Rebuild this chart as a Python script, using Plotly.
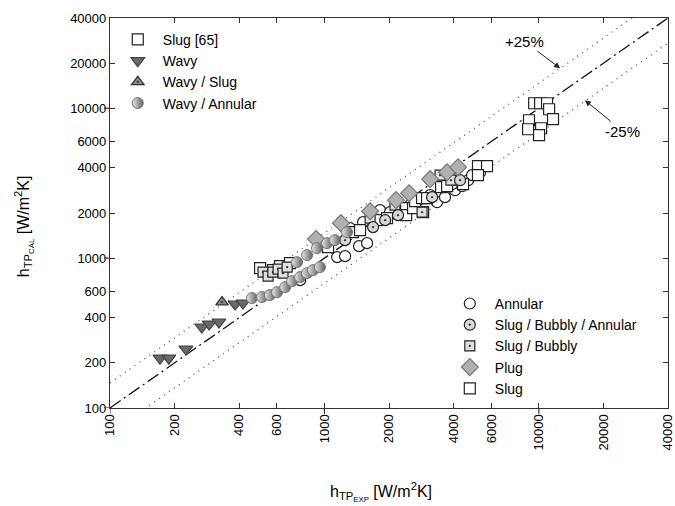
import plotly.graph_objects as go

# ---- data ----
slug65_x = [9506, 10133, 10918, 11163, 8995, 11640, 8907, 10240, 10020]
slug65_y = [10800, 10800, 10800, 9850, 8318, 8450, 7244, 7356, 6607]

wavy_x = [171, 188, 226, 268, 290, 322, 383, 417]
wavy_y = [215, 215, 247, 347, 363, 374, 494, 501]

wavyslug_x = [333]
wavyslug_y = [509]

wavyann_x = [459, 512, 557, 601, 656, 707, 770, 830, 885, 953, 745, 830, 923, 1028, 1120, 1274]
wavyann_y = [541, 550, 567, 593, 641, 703, 747, 794, 832, 871, 940, 1047, 1166, 1259, 1318, 1490]

annular_x = [770, 1146, 1248, 1450, 1580, 1316, 1514, 1817, 2023, 2253, 2508, 2735, 3350, 3648,
             4065, 4385, 4680, 4880, 5320, 3935, 3110]
annular_y = [713, 1016, 1031, 1202, 1259, 1585, 1738, 2089, 2027, 2188, 2256, 2436, 2362, 2552,
             2840, 3020, 3311, 3577, 3744, 3113, 2630]

sba_x = [1248, 1686, 1919, 2203, 3177, 4290]
sba_y = [1318, 1610, 1792, 1935, 2552, 3311]

sb_x = [517, 546, 575, 608, 641, 670, 2853, 3462, 3890, 2133, 1633]
sb_y = [807, 759, 807, 845, 794, 871, 2027, 3577, 3311, 2256, 1848]

plug_x = [914, 1194, 1633, 2158, 2481, 3110, 3733, 4200]
plug_y = [1339, 1711, 2056, 2436, 2712, 3364, 3744, 4043]

slug_x = [501, 575, 621, 691, 1040, 1358, 1466, 1758, 1958, 2404, 2404, 2590, 2648, 2853, 3010,
          2886, 3500, 3733, 4018, 4430, 5200, 5730, 5200]
slug_y = [858, 832, 885, 926, 1184, 1490, 1538, 1792, 1848, 2154, 1935, 2154, 2399, 2512, 2512,
          2027, 2975, 3020, 3364, 3113, 4106, 4106, 3577]

line_x = [100, 40000]
upper_factor = 1.47
lower_factor = 0.68

tick_vals = [100, 200, 400, 600, 1000, 2000, 4000, 6000, 10000, 20000, 40000]
tick_text = [str(v) for v in tick_vals]
decades = [100, 1000, 10000]

FONT = "Arial, Liberation Sans, sans-serif"
DARK = "#333333"

fig = go.Figure()

# reference lines
fig.add_trace(go.Scatter(x=line_x, y=[v * upper_factor for v in line_x], mode="lines",
                         line=dict(color="#555555", width=1.3, dash="1px,5px"),
                         showlegend=False, hoverinfo="skip"))
fig.add_trace(go.Scatter(x=line_x, y=[v * lower_factor for v in line_x], mode="lines",
                         line=dict(color="#555555", width=1.3, dash="1px,5px"),
                         showlegend=False, hoverinfo="skip"))
fig.add_trace(go.Scatter(x=line_x, y=line_x, mode="lines",
                         line=dict(color="#111111", width=1.3, dash="13px,4px,2px,4px"),
                         showlegend=False, hoverinfo="skip"))

def mk(symbol, size, fill, line="#222222", lw=1.2, **kw):
    d = dict(symbol=symbol, size=size, color=fill, line=dict(color=line, width=lw))
    d.update(kw)
    return d

# lower-right legend series
fig.add_trace(go.Scatter(x=annular_x, y=annular_y, mode="markers", name="Annular",
                         marker=mk("circle", 11, "white"), legend="legend2"))
fig.add_trace(go.Scatter(x=slug_x, y=slug_y, mode="markers", name="Slug",
                         marker=mk("square", 11, "white"), legend="legend2"))
fig.add_trace(go.Scatter(x=sb_x, y=sb_y, mode="markers", name="Slug / Bubbly",
                         marker=mk("square-dot", 10, "#e0e0e0"), legend="legend2"))
fig.add_trace(go.Scatter(x=sba_x, y=sba_y, mode="markers", name="Slug / Bubbly / Annular",
                         marker=mk("circle-dot", 11, "#d8d8d8"), legend="legend2"))
fig.add_trace(go.Scatter(x=plug_x, y=plug_y, mode="markers", name="Plug",
                         marker=mk("diamond", 13, "#b0b0b0", line="#777777"), legend="legend2"))

# upper-left legend series
fig.add_trace(go.Scatter(x=slug65_x, y=slug65_y, mode="markers", name="Slug [65]",
                         marker=mk("square", 11, "white"), legend="legend"))
fig.add_trace(go.Scatter(x=wavy_x, y=wavy_y, mode="markers", name="Wavy",
                         marker=mk("triangle-down", 12, "#6a6a6a", line="#444444"), legend="legend"))
fig.add_trace(go.Scatter(x=wavyslug_x, y=wavyslug_y, mode="markers", name="Wavy / Slug",
                         marker=mk("triangle-up-dot", 11, "#8a8a8a", line="#333333"), legend="legend"))
fig.add_trace(go.Scatter(x=wavyann_x, y=wavyann_y, mode="markers", name="Wavy / Annular",
                         marker=mk("circle", 11, "#e8e8e8", line="#777777", lw=1,
                                   gradient=dict(type="horizontal", color="#5e5e5e")),
                         legend="legend"))

order_legend1 = ["Slug [65]", "Wavy", "Wavy / Slug", "Wavy / Annular"]
order_legend2 = ["Annular", "Slug / Bubbly / Annular", "Slug / Bubbly", "Plug", "Slug"]
for t in fig.data:
    if t.name in order_legend1:
        t.legendrank = order_legend1.index(t.name) + 1
    elif t.name in order_legend2:
        t.legendrank = order_legend2.index(t.name) + 1

axis_common = dict(
    type="log", tickvals=tick_vals, ticktext=tick_text, ticks="inside", ticklen=5,
    tickcolor=DARK, showline=True, linecolor=DARK, linewidth=1.2, mirror="ticks",
    showgrid=False, zeroline=False, tickfont=dict(family=FONT, size=13, color="black"),
    ticklabeloverflow="allow", automargin=False,
)
fig.update_xaxes(**axis_common, range=[1.99995, 4.60215], tickangle=-90)
fig.update_yaxes(**axis_common, range=[1.99995, 4.60215])

# outward ticks at decades
shapes = []
for d in decades:
    shapes.append(dict(type="line", xref="x", yref="paper", x0=d, x1=d, y0=0, y1=-0.015,
                       line=dict(color=DARK, width=1.2)))
    shapes.append(dict(type="line", xref="paper", yref="y", x0=0, x1=-0.011, y0=d, y1=d,
                       line=dict(color=DARK, width=1.2)))

annotations = [
    dict(x=0.485, y=-0.215, xref="paper", yref="paper", showarrow=False,
         text="h<sub>TP<sub>EXP</sub></sub> [W/m<sup>2</sup>K]",
         font=dict(family=FONT, size=16, color="black"), xanchor="center", yanchor="middle"),
    dict(x=-0.155, y=0.465, xref="paper", yref="paper", showarrow=False, textangle=-90,
         text="h<sub>TP<sub>CAL</sub></sub> [W/m<sup>2</sup>K]",
         font=dict(family=FONT, size=16, color="black"), xanchor="center", yanchor="middle"),
    dict(x=4.099, y=4.267, xref="x", yref="y", text="+25%", showarrow=True, arrowhead=2,
         arrowsize=1.2, arrowwidth=1, arrowcolor="#222222", ax=-36, ay=-27,
         font=dict(family=FONT, size=15, color="black")),
    dict(x=4.215, y=4.053, xref="x", yref="y", text="-25%", showarrow=True, arrowhead=2,
         arrowsize=1.2, arrowwidth=1, arrowcolor="#222222", ax=38, ay=31,
         font=dict(family=FONT, size=15, color="black")),
]

fig.update_layout(
    width=675, height=506,
    margin=dict(l=110, r=7, t=18, b=98, autoexpand=False),
    paper_bgcolor="white", plot_bgcolor="white",
    font=dict(family=FONT, color="black"),
    shapes=shapes, annotations=annotations,
    legend=dict(x=0.005, y=0.985, xanchor="left", yanchor="top", bgcolor="rgba(0,0,0,0)",
                font=dict(family=FONT, size=14, color="black"), tracegroupgap=0,
                itemwidth=40),
    legend2=dict(x=0.6, y=0.308, xanchor="left", yanchor="top", bgcolor="rgba(0,0,0,0)",
                 font=dict(family=FONT, size=14, color="black"), tracegroupgap=0,
                 itemwidth=40),
)

fig.write_html("out.html")
